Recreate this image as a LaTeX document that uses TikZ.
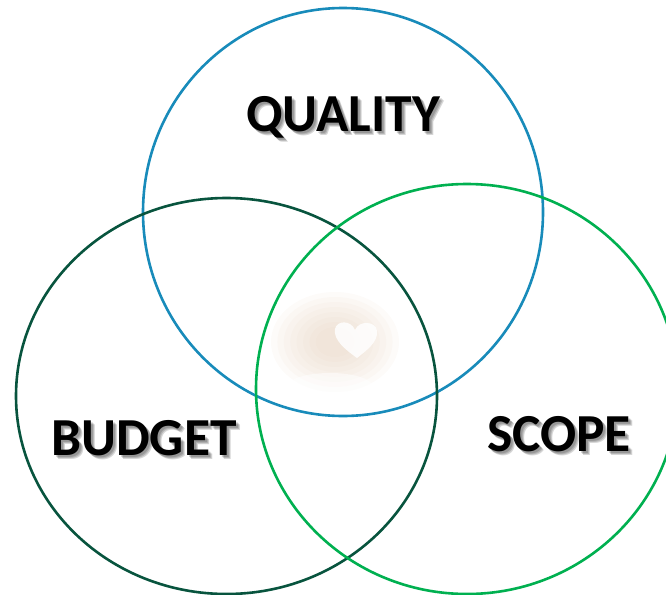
\documentclass[tikz,border=0pt]{standalone}
\usepackage{fontspec}
\setmainfont{Carlito}
\definecolor{qblue}{RGB}{24,139,186}
\definecolor{bgreen}{RGB}{8,84,62}
\definecolor{sgreen}{RGB}{0,176,80}
\definecolor{beige}{RGB}{225,200,176}
\begin{document}
\begin{tikzpicture}[x=1pt,y=-1pt,
  ring/.style={line width=2.6pt},
  lbl/.style={font=\fontsize{53.5}{53.5}\selectfont\bfseries, inner sep=0pt, anchor=base},
  shd/.style={lbl, text=black, text opacity=0.16}]
\useasboundingbox (0,0) rectangle (666,594);
% soft blob in the centre
\foreach \s in {1.0,0.9,0.8,0.7,0.6,0.5,0.4,0.3}
  \fill[beige, opacity=0.08] (335,342) ellipse [x radius=\s*64pt, y radius=\s*50pt];
\fill[white, opacity=0.85] (357,358) .. controls (346,350) and (333,340) .. (335,329)
  .. controls (337,320) and (351,320) .. (355,330)
  .. controls (359,320) and (376,321) .. (377,331)
  .. controls (378,342) and (367,350) .. (357,358) -- cycle;
\fill[white, opacity=0.5] (330,386) ellipse [x radius=42pt, y radius=13pt];
% rings
\draw[ring, qblue] (343,212) ellipse [x radius=200pt, y radius=204pt];
\draw[ring, bgreen] (226.5,396) ellipse [x radius=210.5pt, y radius=198pt];
\draw[ring, sgreen] (467,389) ellipse [x radius=211pt, y radius=205pt];
% label shadows
\foreach \dx/\dy [count=\k] in {2/2,3/3,4/4} {
  \node[shd] (qs\k) at (343+\dx,131+\dy) {QUALITY};
  \node[shd] (bs\k) at (144+\dx,455+\dy) {BUDGET};
  \node[shd] (ss\k) at (559+\dx,451+\dy) {SCOPE};
}
% labels
\node[lbl] (quality) at (343,131) {QUALITY};
\node[lbl] (budget) at (144,455) {BUDGET};
\node[lbl] (scope) at (559,451) {SCOPE};
\end{tikzpicture}
\end{document}
